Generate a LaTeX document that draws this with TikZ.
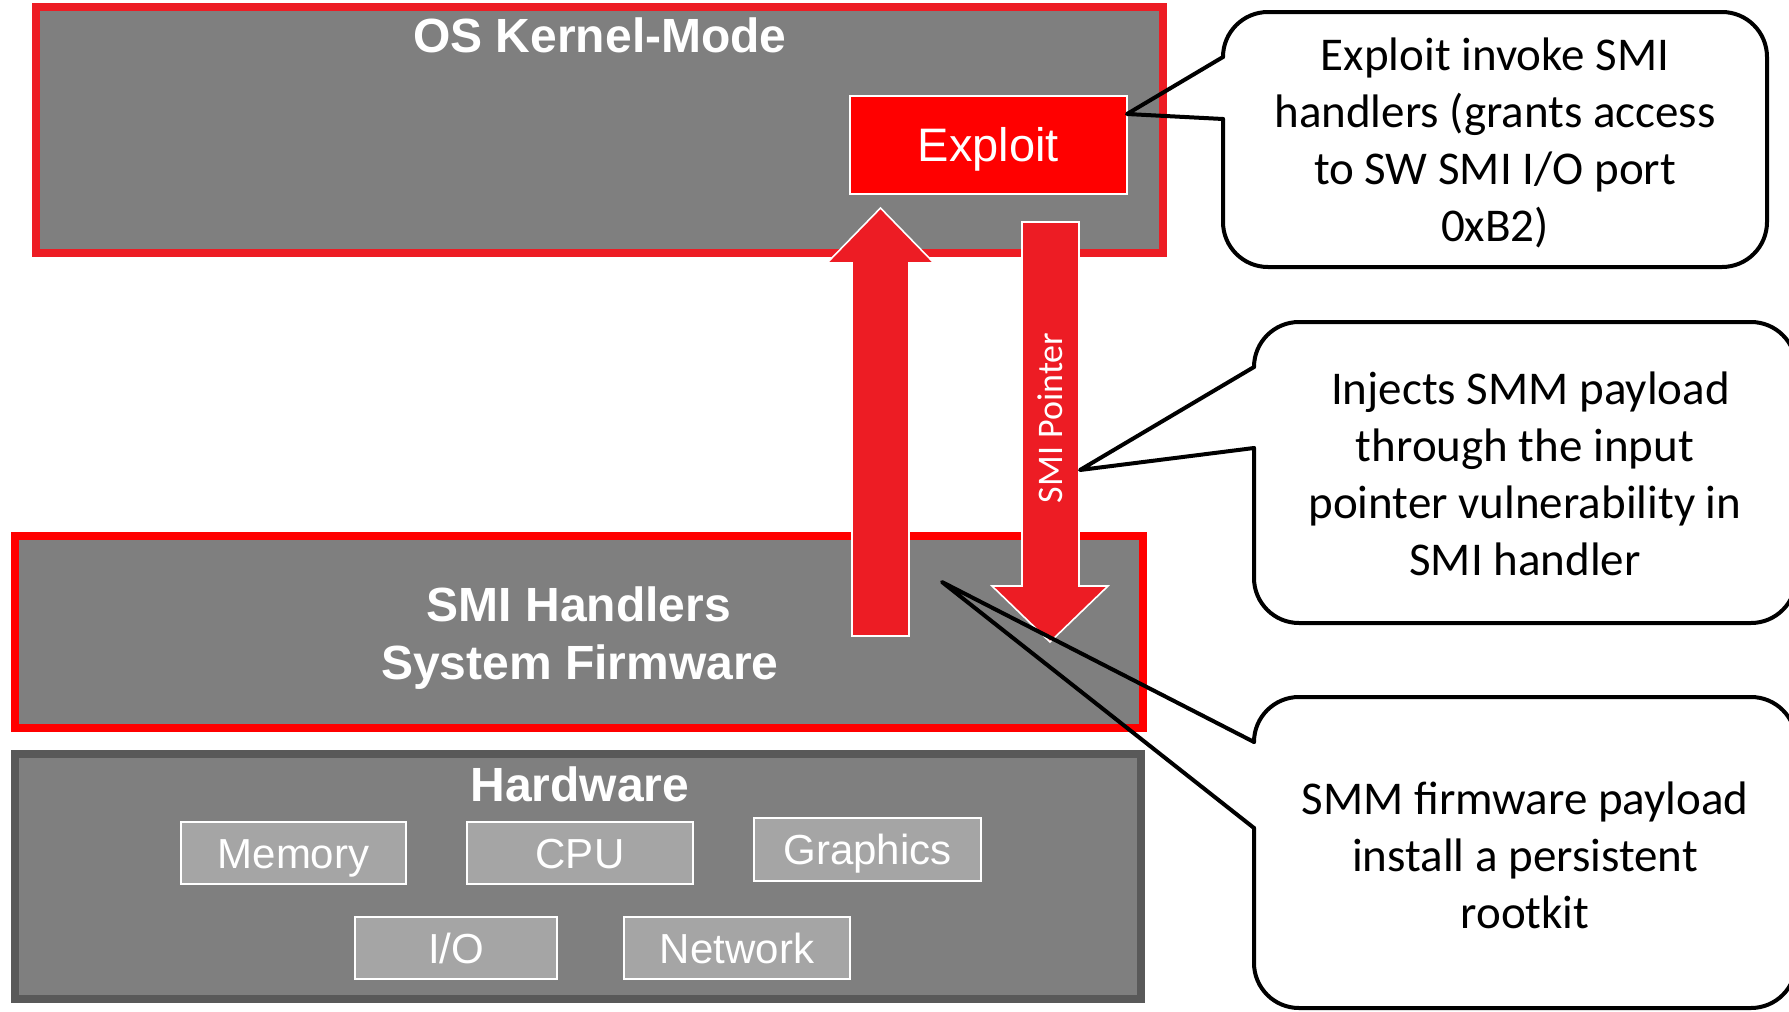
\documentclass[tikz,border=0pt]{standalone}
\usepackage{fontspec}
\setmainfont{Liberation Sans}
\newfontfamily\calibri{Carlito}
\definecolor{layergray}{HTML}{7F7F7F}
\definecolor{partgray}{HTML}{A5A5A5}
\definecolor{hwborder}{HTML}{595959}
\definecolor{osred}{HTML}{ED1C24}
\definecolor{purered}{HTML}{FF0000}
\definecolor{arrowred}{HTML}{ED1C24}
\tikzset{
  layer/.style={rectangle, fill=layergray, line width=4pt, inner sep=0pt},
  title/.style={anchor=base, text=white, font=\fontsize{24pt}{28pt}\selectfont\bfseries},
  part/.style={rectangle, fill=partgray, draw=white, line width=1pt, inner sep=0pt,
    text=white, font=\fontsize{21pt}{25pt}\selectfont, text height=15pt, text depth=0pt},
  exploitbox/.style={rectangle, fill=purered, draw=white, line width=1pt, inner sep=0pt,
    text=white, font=\fontsize{23.5pt}{28pt}\selectfont, text height=16.8pt, text depth=0pt},
  blockarrow/.style={fill=arrowred, draw=white, line width=0.8pt, line join=miter},
  calloutline/.style={draw=black, line width=2pt, line cap=round, line join=round},
  callouttext/.style={align=center, text=black, inner sep=0pt,
    font=\calibri\fontsize{23.5pt}{28.5pt}\selectfont},
}
\begin{document}
\begin{tikzpicture}[x=0.5pt, y=-0.5pt]
  \clip (0,0) rectangle (1789,1012);
  \fill[white] (0,0) rectangle (1789,1012);

  % layers
  \node[layer, draw=osred, minimum width=563.5pt, minimum height=123pt] (kernel) at (599.5,130) {};
  \node[layer, draw=purered, minimum width=564pt, minimum height=96pt] (smi) at (579,632) {};
  \node[layer, draw=hwborder, minimum width=563pt, minimum height=122.5pt] (hw) at (578,876.5) {};

  \node[title] (kerneltitle) at (600,53) {OS Kernel-Mode};
  \node[title] (smititle) at (579,621) {SMI Handlers};
  \node[title] (fwtitle) at (580,679) {System Firmware};
  \node[title] (hwtitle) at (580,801) {Hardware};

  % exploit in kernel mode
  \node[exploitbox, minimum width=138.5pt, minimum height=49pt] (exploit) at (988.5,145) {Exploit};

  % hardware parts
  \node[part, minimum width=112.5pt, minimum height=31pt] (mem) at (293.5,853) {Memory};
  \node[part, minimum width=113pt, minimum height=31pt] (cpu) at (580,853) {CPU};
  \node[part, minimum width=113.5pt, minimum height=31.5pt] (gfx) at (867.5,849.5) {Graphics};
  \node[part, minimum width=101pt, minimum height=31pt] (io) at (456,948) {I/O};
  \node[part, minimum width=113pt, minimum height=31pt] (net) at (737,948) {Network};

  % block arrows between firmware and kernel
  \coordinate (uptip) at (880.5,208);
  \coordinate (downtip) at (1050,642);
  \draw[blockarrow] (852,636) -- (852,263) -- (827,263) -- (uptip) -- (934,263)
    -- (909,263) -- (909,636) -- cycle;
  \draw[blockarrow] (1022,222) -- (1079,222) -- (1079,586) -- (1108,586) -- (downtip)
    -- (992,586) -- (1022,586) -- cycle;
  \node[rotate=90, text=white, inner sep=0pt, font=\calibri\fontsize{18pt}{22pt}\selectfont]
    (smiptr) at (1050.5,418) {SMI Pointer};

  % callout 1
  \coordinate (c1tip) at (1127,114);
  \draw[calloutline, rounded corners=22.5pt] (1223,119) -- (1223,267) -- (1767,267)
    -- (1767,12) -- (1223,12) -- (1223,57);
  \draw[calloutline] (1223,57) -- (c1tip) -- (1223,119);
  \node[callouttext] (c1text) at (1495,143)
    {Exploit invoke SMI\\handlers (grants access\\to SW SMI I/O port\\0xB2)};

  % callout 2
  \coordinate (c2tip) at (1080,470);
  \draw[calloutline, rounded corners=22.5pt] (1254,448) -- (1254,623) -- (1796,623)
    -- (1796,322) -- (1254,322) -- (1254,367);
  \draw[calloutline] (1254,367) -- (c2tip) -- (1254,448);
  \node[callouttext] (c2text) at (1525,474)
    {\hspace*{0.23em}Injects SMM payload\\through the input\\pointer vulnerability in\\SMI handler};

  % callout 3
  \coordinate (c3tip) at (942,582);
  \draw[calloutline, rounded corners=22.5pt] (1254,828) -- (1254,1008) -- (1796,1008)
    -- (1796,697) -- (1254,697) -- (1254,742);
  \draw[calloutline] (1254,742) -- (c3tip) -- (1254,828);
  \node[callouttext] (c3text) at (1525,855)
    {SMM firmware payload\\install a persistent\\rootkit};
\end{tikzpicture}
\end{document}
